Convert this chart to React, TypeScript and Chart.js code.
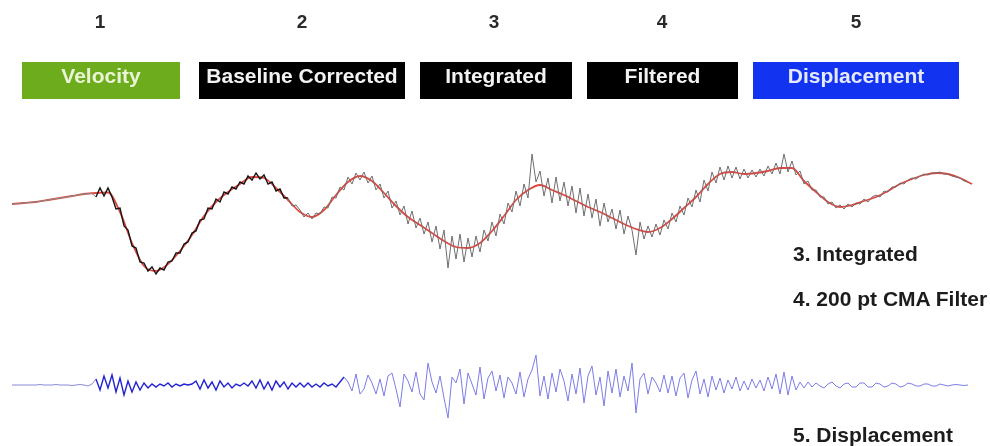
import React, { useEffect, useRef } from "react";
import { Chart, registerables } from "chart.js";

Chart.register(...registerables);

// Step numbers and processing stages
const stepNumbers = ["1", "2", "3", "4", "5"];
const stageLabels = ["Velocity", "Baseline Corrected", "Integrated", "Filtered", "Displacement"];
const sideLabels = ["3. Integrated", "4. 200 pt CMA Filter", "5. Displacement"];

// Sampling intervals (seconds)
const RAW_DT = 1 / 6;
const FILTER_DT = 0.5;

// 3. Integrated signal (raw, noisy)
const integrated = [
  -0.40, -0.37, -0.33, -0.30, -0.27, -0.23, -0.20, -0.13, -0.07, 0.00, 0.07, 0.13,
  0.20, 0.27, 0.33, 0.40, 0.47, 0.53, 0.60, 0.63, 0.67, 0.3, 1.2, 0.4,
  1.2, 0.3, -0.9, -0.8, -2.6, -3.0, -4.6, -4.8, -6.2, -6.3, -7.1, -6.7,
  -7.4, -6.8, -7.0, -6.2, -6.1, -5.3, -5.3, -4.4, -4.2, -3.3, -3.1, -2.0,
  -1.9, -0.8, -0.9, 0.1, -0.2, 0.8, 0.6, 1.3, 1.1, 1.8, 1.6, 2.4,
  2.0, 2.7, 2.1, 2.5, 1.6, 1.8, 0.9, 1.1, 0.2, 0.2, -0.6, -0.5,
  -1.0, -1.7, -1.3, -1.9, -1.3, -1.4, -0.7, -0.8, 0.3, 0.2, 1.3, 1.0,
  2.3, 1.6, 2.7, 2.0, 2.8, 1.7, 2.4, 1.0, 1.6, 0.2, 0.9, -0.8,
  -0.1, -1.5, -0.6, -2.4, -1.1, -2.8, -1.8, -3.4, -2.2, -4.2, -2.6, -4.9,
  -3.0, -6.8, -3.6, -5.9, -3.4, -6.2, -3.8, -5.7, -3.6, -5.2, -3.0, -4.1,
  -2.2, -3.6, -1.4, -2.4, -0.3, -1.2, 0.9, -0.6, 1.6, 0.2, 4.6, 1.8,
  2.9, 0.4, 2.2, -0.3, 2.3, -0.1, 1.8, -0.6, 1.4, -1.3, 1.2, -1.6,
  0.6, -1.8, 0.1, -2.6, -0.3, -2.2, -0.9, -2.9, -1.0, -3.4, -1.6, -3.0,
  -5.5, -2.2, -3.9, -2.6, -3.7, -2.4, -3.5, -2.0, -2.9, -1.3, -2.2, -0.6,
  -1.5, 0.2, -0.7, 1.0, -0.2, 2.0, 0.9, 2.8, 1.7, 3.3, 2.0, 3.4,
  2.2, 3.3, 2.1, 3.1, 2.2, 3.0, 2.3, 3.1, 2.4, 3.4, 2.6, 3.7,
  2.6, 4.6, 2.8, 3.9, 2.5, 2.9, 1.6, 1.9, 1.0, 1.0, 0.3, 0.3,
  -0.4, -0.2, -0.8, -0.5, -0.9, -0.4, -0.7, -0.3, -0.4, 0.1, -0.2, 0.3,
  0.5, 0.3, 0.9, 0.8, 1.3, 1.3, 1.7, 1.6, 2.0, 2.2, 2.1, 2.4,
  2.6, 2.5, 2.7, 2.7, 2.8, 2.6, 2.6, 2.4, 2.3, 2.2, 1.9, 1.8,
];

// 4. 200 pt CMA filtered signal
const filtered = [
  -0.4, -0.3, -0.2, 0.0, 0.2, 0.4, 0.6, 0.7, 0.75, -1.2, -4.3, -6.6, -7.1, -6.4, -5.1, -3.5,
  -1.6, -0.2, 0.8, 1.6, 2.3, 2.2, 1.2, 0.0, -1.2, -1.7, -1.0, 0.5, 1.8, 2.4, 1.9, 0.7,
  -0.6, -1.7, -2.5, -3.3, -4.1, -4.7, -4.8, -4.3, -3.1, -1.6, 0.0, 1.0, 1.5, 1.0, 0.5, -0.1,
  -0.7, -1.2, -1.8, -2.4, -2.9, -3.2, -2.8, -1.9, -0.8, 0.3, 1.6, 2.6, 2.8, 2.6, 2.7, 2.9,
  3.2, 3.2, 1.9, 0.8, -0.2, -0.7, -0.5, -0.1, 0.3, 0.9, 1.6, 2.1, 2.5, 2.7, 2.6, 2.2, 1.6,
];

// 5. Displacement (integrated minus filter)
const displacement = [
  0, 0, 0, 0, 0, 0, 0, 0.05, 0, 0, 0, 0.05, 0, 0, 0, -0.05, 0, 0.05, 0, -0.1, 0.1,
  0.6, -0.5, 0.9, -0.3, 1.0, -0.7, 0.7,
  -1.0, 0.4, -0.7, 0.3, -0.5, 0.2, -0.3, 0.1,
  -0.2, 0.1, -0.1, 0.2, -0.2, 0.1, -0.1, 0.1, 0.0, 0.1,
  0.4, -0.4, 0.5, -0.3, 0.3, -0.5, 0.4, -0.2, 0.2, -0.3,
  0.1, -0.1, 0.2, -0.1,
  0.4, -0.3, 0.5, -0.4, 0.3, -0.5, 0.4, -0.2, 0.3, -0.4, 0.2, -0.2,
  0.2, -0.2, 0.2, -0.2, 0.1, -0.2, 0.2, -0.1, 0.1, -0.2, 0.3,
  0.8, 0.3, -0.6, 1.1, -0.9, -0.4, 1.0, 0.2, -0.9, 0.6, -1.1, 0.9, 1.2, -0.4,
  -2.2, 1.1, 0.4, -0.7, 1.3, -0.9, -1.5, 2.2, 0.3, -0.8, 0.9, -1.3, -3.3, 0.8,
  0.2, 1.6, -1.9, 1.2, 0.1, -1.0, 1.8, -1.4, 0.7, 1.4, -0.6,
  1.0, -1.3, 0.8, 0.2, -0.9, 1.3, -1.2, 0.6, 1.5, 3.0, -1.1, 0.9, -1.4, 1.2,
  -0.7, 1.6, 0.4, -1.6, 1.1, -0.9, 1.7, -1.8, 0.9, 1.9, -1.0, 0.8, -2.1, 1.4,
  -0.8, 1.6, -1.2, 0.9, -0.6, 2.2, -2.8, 0.6, 1.2, -0.9, 0.8, 0.2, -0.7, 1.0,
  -0.8, 0.9, -1.1, 0.7, 1.2, -1.3, 0.5, 1.4, -0.9, 0.6, -1.2, 0.9, -0.5, 0.7,
  -0.8, 0.5, -0.4, 0.8, -0.6, 0.4, -0.5, 0.6, -0.3,
  0.5, -0.6, 0.8, -0.4, 1.1, -0.9, 1.3, -1.0, 0.9, -0.5, 0.3, -0.3, 0.3, -0.2,
  0.2, -0.1, -0.3, 0.1, 0.3, -0.1, -0.3, 0.1, 0.2, -0.2, -0.2, 0.2, 0.2, -0.2,
  -0.2, 0.2, 0.1, -0.2, -0.1, 0.2, 0.1, -0.2, -0.1, 0.2, 0.1, -0.1, -0.1, 0.1,
  0.1, -0.1, -0.1, 0.1, 0.0, -0.1, 0.0, 0.05, 0.0, -0.05, 0.0,
];

const FONT = "'Liberation Sans', Arial, Helvetica, sans-serif";

const numberCenters = [100, 302, 494, 662, 856];
const boxes = [
  { left: 22, width: 158, bg: "#6dac1c", color: "#eaf5d6" },
  { left: 199, width: 206, bg: "#000000", color: "#f2f2f2" },
  { left: 420, width: 152, bg: "#000000", color: "#f2f2f2" },
  { left: 587, width: 151, bg: "#000000", color: "#f2f2f2" },
  { left: 753, width: 206, bg: "#1233ef", color: "#e6eaff" },
];
const sideTops = [243, 288, 424];

export default function App() {
  const canvasRef = useRef<HTMLCanvasElement | null>(null);

  useEffect(() => {
    const canvas = canvasRef.current;
    if (!canvas) return;
    const rawPts = integrated.map((v, i) => ({ x: i * RAW_DT, y: v }));
    const filtPts = filtered.map((v, i) => ({ x: i * FILTER_DT, y: v }));
    const dispPts = displacement.map((v, i) => ({ x: i * RAW_DT, y: v }));

    const chart = new Chart(canvas, {
      type: "line",
      data: {
        datasets: [
          {
            label: "3. Integrated",
            data: rawPts,
            yAxisID: "yTop",
            borderColor: "#777",
            borderWidth: 1,
            pointRadius: 0,
            tension: 0,
            segment: {
              borderColor: (ctx: any) => {
                const x = ctx.p0.parsed.x;
                if (x < 3.5) return "#8a8a8a";
                if (x < 11.5) return "#151515";
                return "#6e6e6e";
              },
              borderWidth: (ctx: any) => {
                const x = ctx.p0.parsed.x;
                return x >= 3.5 && x < 11.5 ? 1.4 : 1;
              },
            },
          },
          {
            label: "4. 200 pt CMA Filter",
            data: filtPts,
            yAxisID: "yTop",
            borderColor: "#e5473f",
            borderWidth: 1.8,
            pointRadius: 0,
            cubicInterpolationMode: "monotone",
          },
          {
            label: "5. Displacement",
            data: dispPts,
            yAxisID: "yBot",
            borderColor: "#8080e8",
            borderWidth: 1,
            pointRadius: 0,
            tension: 0,
            segment: {
              borderColor: (ctx: any) => {
                const x = ctx.p0.parsed.x;
                if (x < 3.5) return "#8a8ad8";
                if (x < 13.8) return "#2222d6";
                return "#7c7ce8";
              },
              borderWidth: (ctx: any) => {
                const x = ctx.p0.parsed.x;
                return x >= 3.5 && x < 13.8 ? 1.4 : 1;
              },
            },
          },
        ],
      },
      options: {
        responsive: false,
        animation: false,
        layout: { padding: 0 },
        plugins: { legend: { display: false }, tooltip: { enabled: false }, title: { display: false } },
        scales: {
          x: { type: "linear", display: false, min: -0.5, max: 40.75 },
          yTop: { type: "linear", display: false, min: -24.6, max: 20 },
          yBot: { type: "linear", display: false, min: -6.1, max: 38.5 },
        },
      },
    });
    return () => chart.destroy();
  }, []);

  return (
    <div style={{ position: "fixed", left: 0, top: 0, width: 990, height: 446, background: "#fff", overflow: "hidden", fontFamily: FONT }}>
      <canvas ref={canvasRef} width={990} height={446} style={{ position: "absolute", left: 0, top: 0 }} />
      {stepNumbers.map((n, i) => (
        <div
          key={"n" + i}
          style={{
            position: "absolute",
            left: numberCenters[i] - 20,
            width: 40,
            top: 12,
            textAlign: "center",
            fontSize: 19,
            lineHeight: "19px",
            fontWeight: "bold",
            color: "#2a2a2a",
          }}
        >
          {n}
        </div>
      ))}
      {stageLabels.map((s, i) => (
        <div
          key={"b" + i}
          style={{
            position: "absolute",
            left: boxes[i].left,
            top: 62,
            width: boxes[i].width,
            height: 37,
            background: boxes[i].bg,
          }}
        >
          <div
            style={{
              position: "absolute",
              left: 0,
              right: 0,
              top: 3,
              textAlign: "center",
              fontSize: 21,
              lineHeight: "21px",
              fontWeight: "bold",
              color: boxes[i].color,
              whiteSpace: "nowrap",
            }}
          >
            {s}
          </div>
        </div>
      ))}
      {sideLabels.map((s, i) => (
        <div
          key={"s" + i}
          style={{
            position: "absolute",
            left: 793,
            top: sideTops[i],
            fontSize: 21,
            lineHeight: "21px",
            fontWeight: "bold",
            color: "#1c1c1c",
            whiteSpace: "nowrap",
          }}
        >
          {s}
        </div>
      ))}
    </div>
  );
}
